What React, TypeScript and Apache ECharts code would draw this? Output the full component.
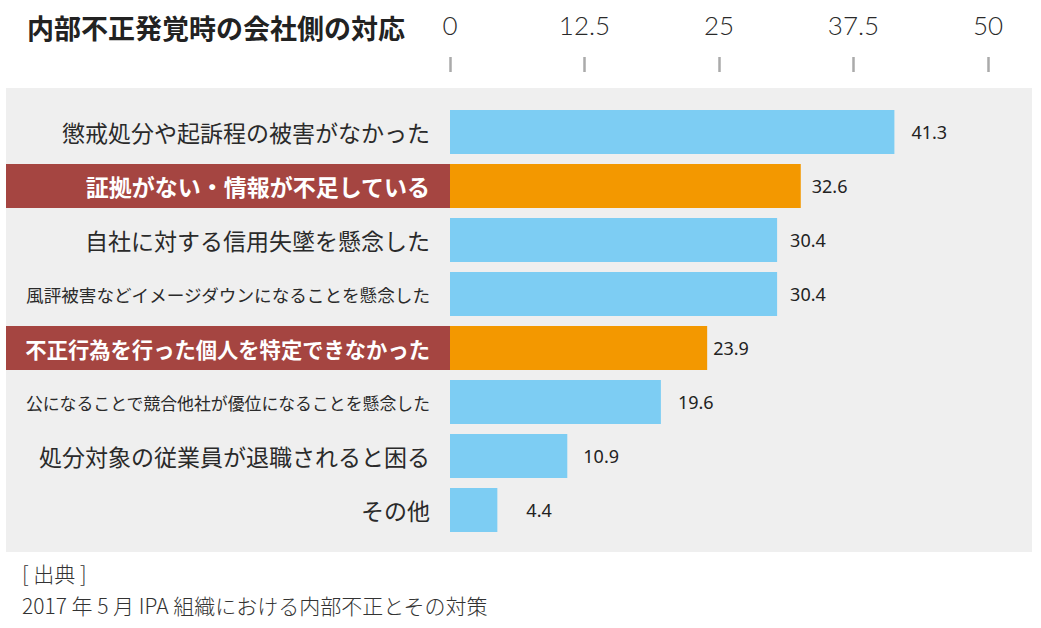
import React, { useEffect, useRef } from 'react';
import * as echarts from 'echarts';

const chartTitle = '内部不正発覚時の会社側の対応';
const categories = [
  '懲戒処分や起訴程の被害がなかった',
  '証拠がない・情報が不足している',
  '自社に対する信用失墜を懸念した',
  '風評被害などイメージダウンになることを懸念した',
  '不正行為を行った個人を特定できなかった',
  '公になることで競合他社が優位になることを懸念した',
  '処分対象の従業員が退職されると困る',
  'その他',
];
const values = [41.3, 32.6, 30.4, 30.4, 23.9, 19.6, 10.9, 4.4];
const highlighted = [false, true, false, false, true, false, false, false];
const axisMin = 0;
const axisMax = 50;
const axisInterval = 12.5;
const sourceLines = ['[ 出典 ]', '2017 年 5 月 IPA 組織における内部不正とその対策'];

// styling only
const labelGaps = [17, 11, 13, 13, 6, 17, 16, 29];

const JP = '"Noto Sans CJK JP", "Noto Sans", sans-serif';

export default function App() {
  const ref = useRef<HTMLDivElement>(null);
  useEffect(() => {
    if (!ref.current) return;
    const chart = echarts.init(ref.current, null, { renderer: 'svg' });
    const rich: Record<string, any> = {};
    categories.forEach((c, i) => {
      const hl = highlighted[i];
      rich['r' + i] = {
        fontFamily: JP,
        fontSize: Math.min(23, 405 / c.length),
        color: hl ? '#ffffff' : '#2a2a2a',
        fontWeight: hl ? 'bold' : 'normal',
        backgroundColor: hl ? '#a54541' : 'transparent',
        width: 424,
        height: 44,
        lineHeight: 44,
        align: 'right',
        padding: [0, 20, 0, 0],
      };
    });
    chart.setOption({
      animation: false,
      title: {
        text: chartTitle,
        left: 22,
        top: 9,
        textStyle: { fontFamily: JP, fontSize: 27, fontWeight: 'bold', color: '#222' },
      },
      graphic: [
        {
          type: 'rect',
          z: -10,
          shape: { x: 6, y: 88, width: 1026, height: 464 },
          style: { fill: '#efefef' },
          silent: true,
        },
        ...sourceLines.map((t, i) => ({
          type: 'text',
          left: 22,
          top: 562 + i * 32,
          style: { text: t, fontFamily: JP, fontSize: 21, fill: '#333333', fontWeight: 300 },
        })),
      ],
      grid: { left: 450, right: 53, top: 105, height: 432, containLabel: false },
      xAxis: {
        type: 'value',
        position: 'top',
        min: axisMin,
        max: axisMax,
        interval: axisInterval,
        offset: 33,
        axisLine: { show: false },
        axisTick: { show: true, length: 15, lineStyle: { color: '#aaa', width: 2.5 } },
        splitLine: { show: false },
        axisLabel: {
          margin: 34,
          fontSize: 26,
          color: '#2a2a2a',
          fontFamily: 'Lato, "Noto Sans", sans-serif',
          fontWeight: 300,
        },
      },
      yAxis: {
        type: 'category',
        data: categories,
        inverse: true,
        axisLine: { show: false },
        axisTick: { show: false },
        splitLine: { show: false },
        axisLabel: {
          margin: 0,
          interval: 0,
          formatter: (v: string, i: number) => '{r' + i + '|' + v + '}',
          rich,
        },
      },
      series: [
        {
          type: 'bar',
          barWidth: 44,
          data: values.map((v, i) => ({
            value: v,
            itemStyle: { color: highlighted[i] ? '#f39800' : '#7dcdf3' },
            label: { distance: labelGaps[i] },
          })),
          label: {
            show: true,
            position: 'right',
            fontSize: 18,
            color: '#222',
            fontFamily: '"Noto Sans", Lato, sans-serif',
          },
        },
      ],
    });
    return () => chart.dispose();
  }, []);
  return (
    <div
      ref={ref}
      style={{ position: 'absolute', left: 0, top: 0, width: 1041, height: 628, background: '#fff' }}
    />
  );
}
